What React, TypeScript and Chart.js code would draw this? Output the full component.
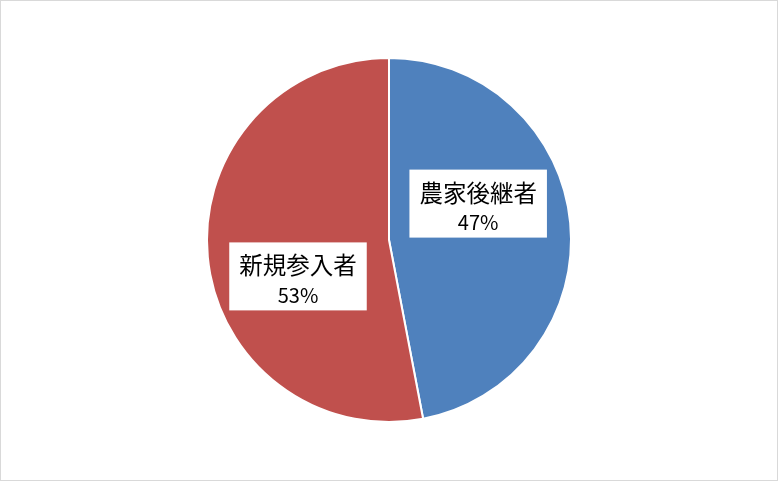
import React, { useEffect, useRef } from "react";
import { Chart, registerables, Plugin } from "chart.js";

Chart.register(...registerables);

const categories = ["農家後継者", "新規参入者"];
const shares = [47, 53];
const colors = ["#4F81BD", "#C0504D"];
// label box centre, relative to the pie centre, in units of the radius
const labelOffsets = [
  [0.49, -0.2],
  [-0.5, 0.2],
];

const labelPlugin: Plugin<"pie"> = {
  id: "boxLabels",
  afterDatasetsDraw(chart) {
    const ctx = chart.ctx;
    const meta = chart.getDatasetMeta(0);
    meta.data.forEach((el: any, i) => {
      const r = el.outerRadius;
      const cx = el.x + labelOffsets[i][0] * r;
      const cy = el.y + labelOffsets[i][1] * r;
      const line1 = categories[i];
      const line2 = shares[i] + "%";
      ctx.save();
      ctx.font = '23.5px "Noto Sans CJK JP"';
      const w1 = ctx.measureText(line1).width;
      const bw = w1 + 20;
      const bh = 68;
      ctx.fillStyle = "#ffffff";
      ctx.fillRect(cx - bw / 2, cy - bh / 2, bw, bh);
      ctx.fillStyle = "#000000";
      ctx.textAlign = "center";
      ctx.textBaseline = "middle";
      ctx.fillText(line1, cx, cy - 11);
      ctx.font = '20px "Noto Sans CJK JP"';
      ctx.fillText(line2, cx, cy + 19);
      ctx.restore();
    });
  },
  afterDraw(chart) {
    const ctx = chart.ctx;
    ctx.save();
    ctx.strokeStyle = "#d9d9d9";
    ctx.lineWidth = 1;
    ctx.strokeRect(0.5, 0.5, chart.width - 1, chart.height - 1);
    ctx.restore();
  },
};

const App: React.FC = () => {
  const canvasRef = useRef<HTMLCanvasElement | null>(null);

  useEffect(() => {
    document.body.style.margin = "0";
    if (!canvasRef.current) return;
    const chart = new Chart(canvasRef.current, {
      type: "pie",
      data: {
        labels: categories,
        datasets: [
          {
            data: shares,
            backgroundColor: colors,
            borderColor: "#ffffff",
            borderWidth: 2,
          },
        ],
      },
      options: {
        animation: false,
        responsive: false,
        layout: { padding: { top: 57, bottom: 58 } },
        plugins: {
          legend: { display: false },
          tooltip: { enabled: false },
        },
      },
      plugins: [labelPlugin],
    });
    return () => chart.destroy();
  }, []);

  return (
    <div style={{ width: 778, height: 481, background: "#ffffff" }}>
      <canvas ref={canvasRef} width={778} height={481}></canvas>
    </div>
  );
};

export default App;
